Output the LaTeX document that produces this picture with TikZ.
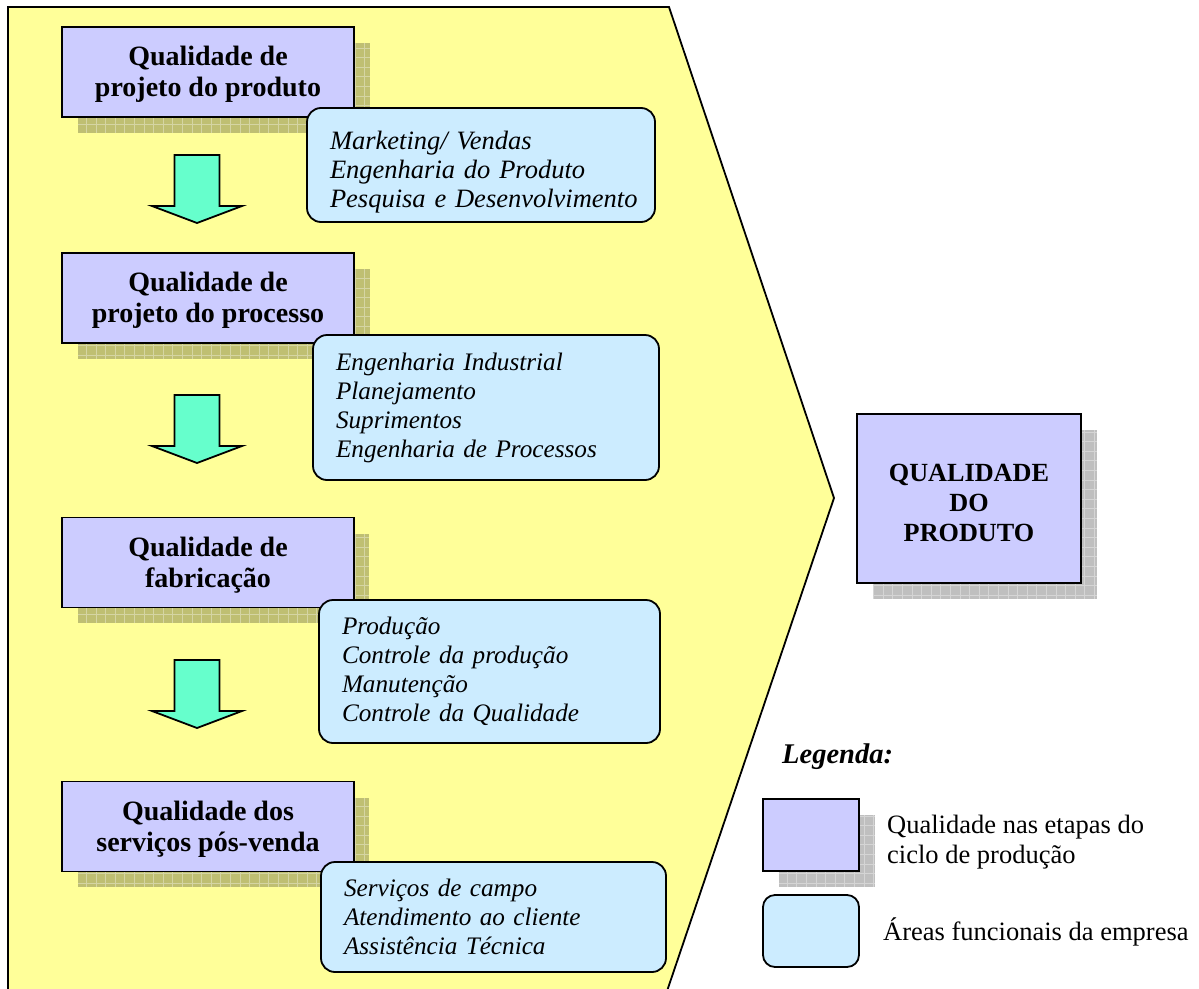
\documentclass[tikz,border=0pt]{standalone}
\usepackage{fontspec}
\setmainfont{Liberation Serif}
\definecolor{chevronfill}{HTML}{FFFF99}
\definecolor{stagefill}{HTML}{CCCCFF}
\definecolor{areafill}{HTML}{CCECFF}
\definecolor{arrowfill}{HTML}{66FFCC}
\tikzset{
  stagebox/.style={draw=black, line width=1.8pt, fill=stagefill, minimum width=292pt, minimum height=90pt, inner sep=0pt, align=center, font=\fontsize{28}{31}\selectfont\bfseries},
  areabox/.style={draw=black, line width=1.8pt, fill=areafill, rounded corners=14pt, align=left, inner xsep=23pt, inner ysep=0pt, font=\fontsize{25.2}{29}\selectfont\itshape},
  shadowfill/.style={fill=black, fill opacity=0.25},
  shadowgrid/.style={draw=white, draw opacity=0.35, line width=0.9pt, step=9.6pt},
  downarrow/.style={draw=black, line width=1.8pt, fill=arrowfill, line join=miter},
  legendtext/.style={inner sep=0pt, align=left, font=\fontsize{26.5}{30}\selectfont},
}
\newcommand\gridshadow[4]{%
  \fill[shadowfill] (#1,#2) rectangle (#3,#4);
  \begin{scope}
    \clip (#1,#2) rectangle (#3,#4);
    \draw[shadowgrid] (#1,#2) grid (#3,#4);
  \end{scope}}
\newcommand\blockdown[1]{%
  \draw[downarrow, shift={#1}] (-22.5,0) -- (22.5,0) -- (22.5,51) -- (45,51) -- (0,68) -- (-45,51) -- (-22.5,51) -- cycle;}
\begin{document}
\begin{tikzpicture}[x=1pt, y=-1pt]
\useasboundingbox (0,0) rectangle (1199,988);
\begin{scope}
  \clip (0,0) rectangle (1199,988);
  % chevron background
  \draw[line width=1.8pt, fill=chevronfill, line join=miter]
    (8,7) -- (669,7) -- (834,498) -- (664,1000) -- (8,1000) -- cycle;
\end{scope}

% shadows of the stage boxes
\gridshadow{78}{43}{370}{133}
\gridshadow{78}{269}{370}{359}
\gridshadow{78}{534}{369}{623}
\gridshadow{78}{798}{369}{887}
\gridshadow{873}{430}{1097}{599}
\gridshadow{779}{815}{875}{887}

% stage boxes
\node[stagebox] (s1) at (208,72) {\rule{0pt}{24pt}Qualidade de\\projeto do produto};
\node[stagebox] (s2) at (208,298) {\rule{0pt}{24pt}Qualidade de\\projeto do processo};
\node[stagebox] (s3) at (208,562.5) {\rule{0pt}{24pt}Qualidade de\\fabricação};
\node[stagebox] (s4) at (208,826.5) {\rule{0pt}{24pt}Qualidade dos\\serviços pós-venda};

% functional areas
\node[areabox, text width=302pt, minimum width=348pt, minimum height=114pt, font=\fontsize{26.5}{29}\selectfont\itshape] (a1) at (481,165)
  {\rule{0pt}{33pt}\mbox{Marketing/ Vendas}\\\mbox{Engenharia do Produto}\\\mbox{Pesquisa e Desenvolvimento}};
\node[areabox, text width=300pt, minimum width=346pt, minimum height=145pt] (a2) at (486,407.5)
  {Engenharia Industrial\\Planejamento\\Suprimentos\\Engenharia de Processos};
\node[areabox, text width=295pt, minimum width=341pt, minimum height=143pt] (a3) at (489.5,671.5)
  {Produção\\Controle da produção\\Manutenção\\Controle da Qualidade};
\node[areabox, text width=299pt, minimum width=345pt, minimum height=110pt] (a4) at (493.5,917)
  {Serviços de campo\\Atendimento ao cliente\\Assistência Técnica};

% block arrows
\blockdown{(197,155)}
\blockdown{(197,395)}
\blockdown{(197,660)}

% product quality
\node[stagebox, minimum width=224pt, minimum height=169pt, font=\fontsize{26.2}{30}\selectfont\bfseries] (pq) at (969,498.5)
  {\rule{0pt}{27pt}QUALIDADE\\DO\\PRODUTO};

% legend
\node[inner sep=0pt, anchor=base west, font=\fontsize{28.5}{30}\selectfont\bfseries\itshape] (leg) at (782,763) {Legenda:};
\node[draw=black, line width=1.8pt, fill=stagefill, minimum width=96pt, minimum height=72pt, inner sep=0pt] (l1) at (811,835) {};
\node[draw=black, line width=1.8pt, fill=areafill, rounded corners=12pt, minimum width=96pt, minimum height=72pt, inner sep=0pt] (l2) at (811,931) {};
\node[legendtext, anchor=west] (l1t) at (887,842) {Qualidade nas etapas do\\ciclo de produção};
\node[legendtext, anchor=base west] (l2t) at (883,940) {Áreas funcionais da empresa};
\end{tikzpicture}
\end{document}
